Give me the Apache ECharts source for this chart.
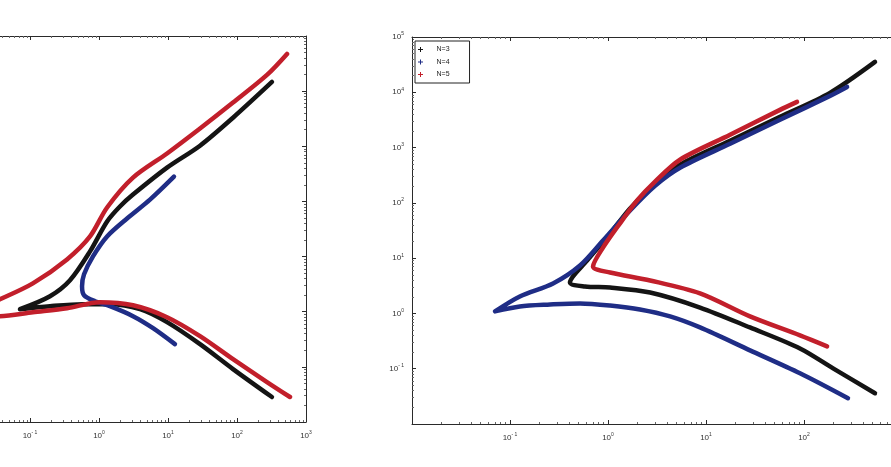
<!DOCTYPE html>
<html>
<head>
<meta charset="utf-8">
<script src="https://cdn.jsdelivr.net/npm/echarts@6/dist/echarts.min.js"></script>
<style>
  html, body { margin: 0; padding: 0; background: #fff; }
  #chart { width: 891px; height: 467px; }
</style>
</head>
<body>
<div id="chart"></div>
<script>
// series names (legend order)
const seriesNames = ['N=3', 'N=4', 'N=5'];
const seriesColors = ['#141414', '#1f2d86', '#c21f2b'];

// left panel curves [x, y] (lower branch from right end -> cusp -> upper branch)
const leftBlack = [
  [321, 0.0284], [87.5, 0.0912], [29.1, 0.258], [9.68, 0.646], [3.93, 1.11],
  [1.44, 1.37], [0.586, 1.37], [0.195, 1.26], [0.0716, 1.11],
  [0.195, 1.91], [0.380, 3.72], [0.741, 12.4], [1.31, 43.3], [2.01, 80.9],
  [3.11, 133], [9.68, 410], [29.1, 1026], [87.5, 3300], [321, 14700]
];
const leftBlue = [
  [12.6, 0.258], [6.07, 0.503], [3.11, 0.83], [1.44, 1.26], [0.875, 1.55],
  [0.607, 1.99], [0.568, 2.89], [0.607, 4.76], [0.818, 10.1], [1.31, 23.2],
  [2.55, 49.1], [5.48, 108], [12.2, 282]
];
const leftRed = [
  [586, 0.0284], [272, 0.0531], [87.5, 0.138], [29.1, 0.361], [9.68, 0.796],
  [3.11, 1.31], [1.03, 1.49], [0.344, 1.16], [0.110, 0.98], [0.0367, 0.83],
  [0.0160, 1.06],
  [0.0367, 1.68], [0.110, 3.27], [0.344, 8.89], [0.741, 23.2], [1.31, 77.6],
  [3.11, 270], [9.68, 740], [29.1, 2100], [87.5, 6200], [272, 19700], [531, 47300]
];

// right panel curves
const rightBlack = [
  [530, 0.036], [198, 0.1016], [91.0, 0.233], [28.1, 0.558], [8.69, 1.28],
  [2.69, 2.39], [1.05, 2.94], [0.582, 3.07], [0.409, 3.63],
  [0.611, 9.06], [1.05, 27.8], [1.67, 78.5], [3.02, 222], [5.43, 490],
  [17.6, 1327], [56.9, 3597], [184, 9750], [530, 35400]
];
const rightBlue = [
  [281, 0.0292], [91.0, 0.0826], [28.1, 0.215], [8.69, 0.558], [4.30, 0.883],
  [2.12, 1.18], [1.05, 1.39], [0.518, 1.52], [0.256, 1.45], [0.126, 1.34],
  [0.0703, 1.09],
  [0.126, 2.03], [0.275, 3.48], [0.518, 7.35], [0.889, 20.8], [1.67, 72.3],
  [3.02, 204], [5.43, 432], [17.6, 1172], [56.9, 3177], [184, 8610], [275, 12500]
];
const rightRed = [
  [172, 0.254], [91.0, 0.401], [28.1, 0.883], [8.69, 2.30], [2.69, 3.94],
  [1.05, 5.50], [0.703, 7.05],
  [0.889, 15.5], [1.32, 42.2], [1.98, 110], [3.02, 242], [5.43, 603],
  [17.6, 1702], [56.9, 4808], [84.9, 6714]
];

// axis ranges
const xRange = [0.01, 1000];
const yRange = [0.01, 100000];

const chart = echarts.init(document.getElementById('chart'), null, { renderer: 'canvas' });

const axisColor = '#2a2a2a';
const labelRich = {
  b: { fontSize: 8, color: '#333', fontFamily: 'Liberation Sans, Arial' },
  s: { fontSize: 5, color: '#333', fontFamily: 'Liberation Sans, Arial', padding: [0, 0, 6, 0] }
};
const expLabel = (v) => {
  const e = Math.round(Math.log10(v));
  if (e === -2) return '';
  return '{b|10}{s|' + (e < 0 ? '- ' + (-e) : e) + '}';
};

function mkAxis(gridIndex, position, range, showLabel) {
  return {
    type: 'log',
    logBase: 10,
    gridIndex,
    position,
    min: range[0],
    max: range[1],
    axisLine: { show: true, onZero: false, lineStyle: { color: axisColor, width: 1 } },
    axisTick: { show: true, inside: true, length: 4, lineStyle: { color: axisColor } },
    minorTick: { show: true, splitNumber: 9, length: 2, lineStyle: { color: '#666' } },
    splitLine: { show: false },
    axisLabel: {
      show: showLabel,
      formatter: expLabel,
      rich: labelRich,
      margin: 8
    }
  };
}

const xAxis = [
  mkAxis(0, 'bottom', xRange, true),
  mkAxis(0, 'top', xRange, false),
  mkAxis(1, 'bottom', xRange, true),
  mkAxis(1, 'top', xRange, false)
];
const yAxis = [
  mkAxis(0, 'left', yRange, true),
  mkAxis(0, 'right', yRange, false),
  mkAxis(1, 'left', yRange, true),
  mkAxis(1, 'right', yRange, false)
];

function line(name, data, gi) {
  const idx = seriesNames.indexOf(name);
  return {
    name,
    type: 'line',
    xAxisIndex: gi * 2,
    yAxisIndex: gi * 2,
    data,
    showSymbol: false,
    symbol: 'path://M4,0H6V4H10V6H6V10H4V6H0V4H4Z',
    color: seriesColors[idx],
    lineStyle: { width: 4.5, color: seriesColors[idx], cap: 'round', join: 'round' },
    smooth: 0.3,
    animation: false
  };
}

chart.setOption({
  backgroundColor: '#fff',
  animation: false,
  grid: [
    { left: -39, top: 36, width: 345, height: 386, outerBoundsMode: 'none', containLabel: false },
    { left: 412, top: 37, width: 490, height: 387, outerBoundsMode: 'none', containLabel: false }
  ],
  legend: {
    data: seriesNames,
    orient: 'vertical',
    left: 415,
    top: 41,
    padding: [5, 20, 5, 3],
    itemGap: 5.5,
    itemWidth: 22,
    itemHeight: 5,
    icon: 'path://M4,0H6V4H10V6H6V10H4V6H0V4H4Z',
    borderColor: '#222',
    borderWidth: 1,
    backgroundColor: '#fff',
    textStyle: { fontSize: 7, color: '#222', fontFamily: 'Liberation Sans, Arial' }
  },
  xAxis,
  yAxis,
  series: [
    line('N=3', leftBlack, 0),
    line('N=4', leftBlue, 0),
    line('N=5', leftRed, 0),
    line('N=3', rightBlack, 1),
    line('N=4', rightBlue, 1),
    line('N=5', rightRed, 1)
  ]
});
</script>
</body>
</html>
